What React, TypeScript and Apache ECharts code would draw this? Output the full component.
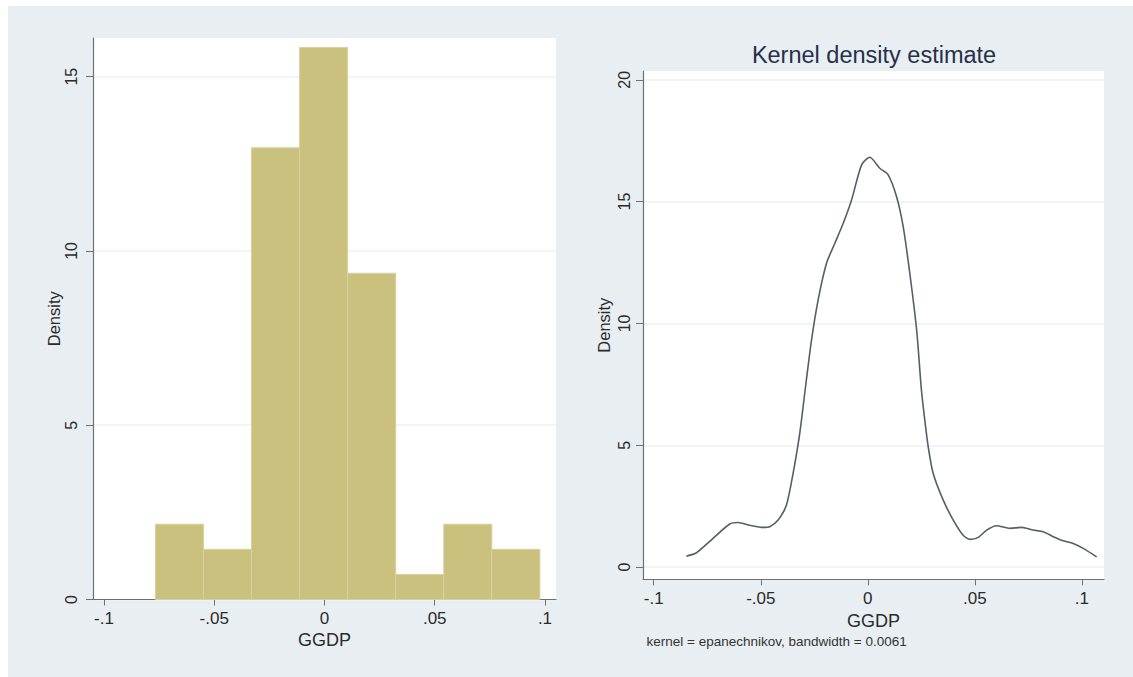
import React, { useEffect, useRef } from "react";
import * as echarts from "echarts";

const FONT = '"Liberation Sans", Arial, Helvetica, sans-serif';

// Histogram of GGDP: 8 equal-width bins, heights are densities
const histBinStart = -0.0767;
const histBinWidth = 0.0218;
const histDensity = [2.16, 1.44, 12.96, 15.84, 9.36, 0.72, 2.16, 1.44];

// Kernel density estimate of GGDP
const kdeX = [
  -0.0847, -0.08, -0.0723, -0.0645, -0.0606, -0.0551, -0.0489, -0.0458, -0.0419, -0.038,
  -0.0349, -0.0318, -0.0287, -0.0263, -0.0232, -0.0193, -0.0154, -0.0115, -0.0076, -0.0029,
  0.0009, 0.0056, 0.0095, 0.0134, 0.0165, 0.0196, 0.0228, 0.025, 0.0266, 0.0282,
  0.0305, 0.0352, 0.0399, 0.0445, 0.0477, 0.0516, 0.0555, 0.0601, 0.0664, 0.0718,
  0.0772, 0.0819, 0.0866, 0.0913, 0.0959, 0.1006, 0.1069,
];
const kdeY = [
  0.45, 0.59, 1.18, 1.77, 1.83, 1.72, 1.63, 1.66, 1.93, 2.55,
  3.85, 5.49, 7.68, 9.32, 10.97, 12.47, 13.29, 14.11, 15.07, 16.51,
  16.82, 16.37, 16.1, 15.21, 13.98, 12.06, 9.73, 7.3, 6.04, 4.94,
  3.85, 2.75, 1.93, 1.31, 1.14, 1.22, 1.52, 1.7, 1.59, 1.63,
  1.52, 1.45, 1.25, 1.08, 0.97, 0.77, 0.42,
];

const xTickValues = [-0.1, -0.05, 0, 0.05, 0.1];
const xTickLabels = ["-.1", "-.05", "0", ".05", ".1"];
const histYTicks = [0, 5, 10, 15];
const kdeYTicks = [0, 5, 10, 15, 20];

const xTitle = "GGDP";
const yTitle = "Density";
const kdeTitle = "Kernel density estimate";
const kdeNote = "kernel = epanechnikov, bandwidth = 0.0061";

const BG = "#e8eef1";
const AXIS = "#6c7176";
const LABEL = "#2b2b2b";
const GRID = "#eef2f4";

const xLabel = (v: number) => {
  const i = xTickValues.findIndex((t) => Math.abs(t - v) < 1e-9);
  return i >= 0 ? xTickLabels[i] : "";
};

function makeX(gridIndex: number, min: number, max: number, labelMargin: number, nameGap: number) {
  return {
    gridIndex,
    type: "value",
    min,
    max,
    axisLine: { show: true, onZero: false, lineStyle: { color: AXIS, width: 1.2 } },
    axisTick: { show: true, customValues: xTickValues, length: 6, lineStyle: { color: AXIS } },
    axisLabel: {
      customValues: xTickValues,
      formatter: xLabel,
      margin: labelMargin,
      fontSize: 17,
      color: LABEL,
      fontFamily: FONT,
    },
    splitLine: { show: false },
    name: xTitle,
    nameLocation: "middle",
    nameGap,
    nameTextStyle: { fontSize: 18, color: LABEL, fontFamily: FONT },
  };
}

function makeY(gridIndex: number, min: number, max: number, ticks: number[], labelMargin: number, nameGap: number) {
  return {
    gridIndex,
    type: "value",
    min,
    max,
    axisLine: { show: true, onZero: false, lineStyle: { color: AXIS, width: 1.2 } },
    axisTick: { show: true, customValues: ticks, length: 7, lineStyle: { color: AXIS } },
    axisLabel: {
      customValues: ticks,
      rotate: 90,
      margin: labelMargin,
      fontSize: 16,
      color: LABEL,
      fontFamily: FONT,
    },
    splitLine: { show: true, lineStyle: { color: GRID, width: 1.5 } },
    name: yTitle,
    nameLocation: "middle",
    nameGap,
    nameRotate: 90,
    nameTextStyle: { fontSize: 16.5, color: LABEL, fontFamily: FONT },
  };
}

export default function App() {
  const ref = useRef<HTMLDivElement>(null);

  useEffect(() => {
    if (!ref.current) return;
    const chart = echarts.init(ref.current, undefined, { renderer: "svg" });

    const histData = histDensity.map((d, i) => [
      histBinStart + i * histBinWidth,
      histBinStart + (i + 1) * histBinWidth,
      d,
    ]);
    const kdeData = kdeX.map((x, i) => [x, kdeY[i]]);

    chart.setOption({
      animation: false,
      backgroundColor: BG,
      textStyle: { fontFamily: FONT },
      grid: [
        { left: 85, top: 32, width: 463, height: 561.5, show: true, backgroundColor: "#ffffff", borderWidth: 0 },
        { left: 635, top: 65, width: 461, height: 508.3, show: true, backgroundColor: "#ffffff", borderWidth: 0 },
      ],
      xAxis: [makeX(0, -0.105, 0.105, 10, 29), makeX(1, -0.105, 0.1103, 11, 29)],
      yAxis: [makeY(0, 0, 16.11, histYTicks, 14, 30), makeY(1, -0.5, 20.36, kdeYTicks, 11, 31)],
      graphic: [
        {
          type: "text",
          x: 866,
          y: 49,
          style: {
            text: kdeTitle,
            fill: "#27304a",
            font: `23.5px ${FONT}`,
            align: "center",
            verticalAlign: "middle",
          },
        },
        {
          type: "text",
          x: 638.5,
          y: 635,
          style: {
            text: kdeNote,
            fill: "#333333",
            font: `13.5px ${FONT}`,
            align: "left",
            verticalAlign: "middle",
          },
        },
      ],
      series: [
        {
          type: "custom",
          xAxisIndex: 0,
          yAxisIndex: 0,
          data: histData,
          encode: { x: [0, 1], y: 2 },
          renderItem: (params: any, api: any) => {
            const p0 = api.coord([api.value(0), api.value(2)]);
            const p1 = api.coord([api.value(1), 0]);
            return {
              type: "rect",
              shape: { x: p0[0], y: p0[1], width: p1[0] - p0[0], height: p1[1] - p0[1] },
              style: { fill: "#c9c17d", stroke: "#d7d19f", lineWidth: 1 },
            };
          },
        },
        {
          type: "line",
          xAxisIndex: 1,
          yAxisIndex: 1,
          data: kdeData,
          showSymbol: false,
          smooth: 0.25,
          lineStyle: { color: "#575e66", width: 1.6 },
        },
      ],
    });

    return () => chart.dispose();
  }, []);

  return (
    <div style={{ position: "fixed", left: 8, top: 6, right: 0, bottom: 0, background: BG }}>
      <div ref={ref} style={{ width: 1125, height: 671 }} />
    </div>
  );
}
